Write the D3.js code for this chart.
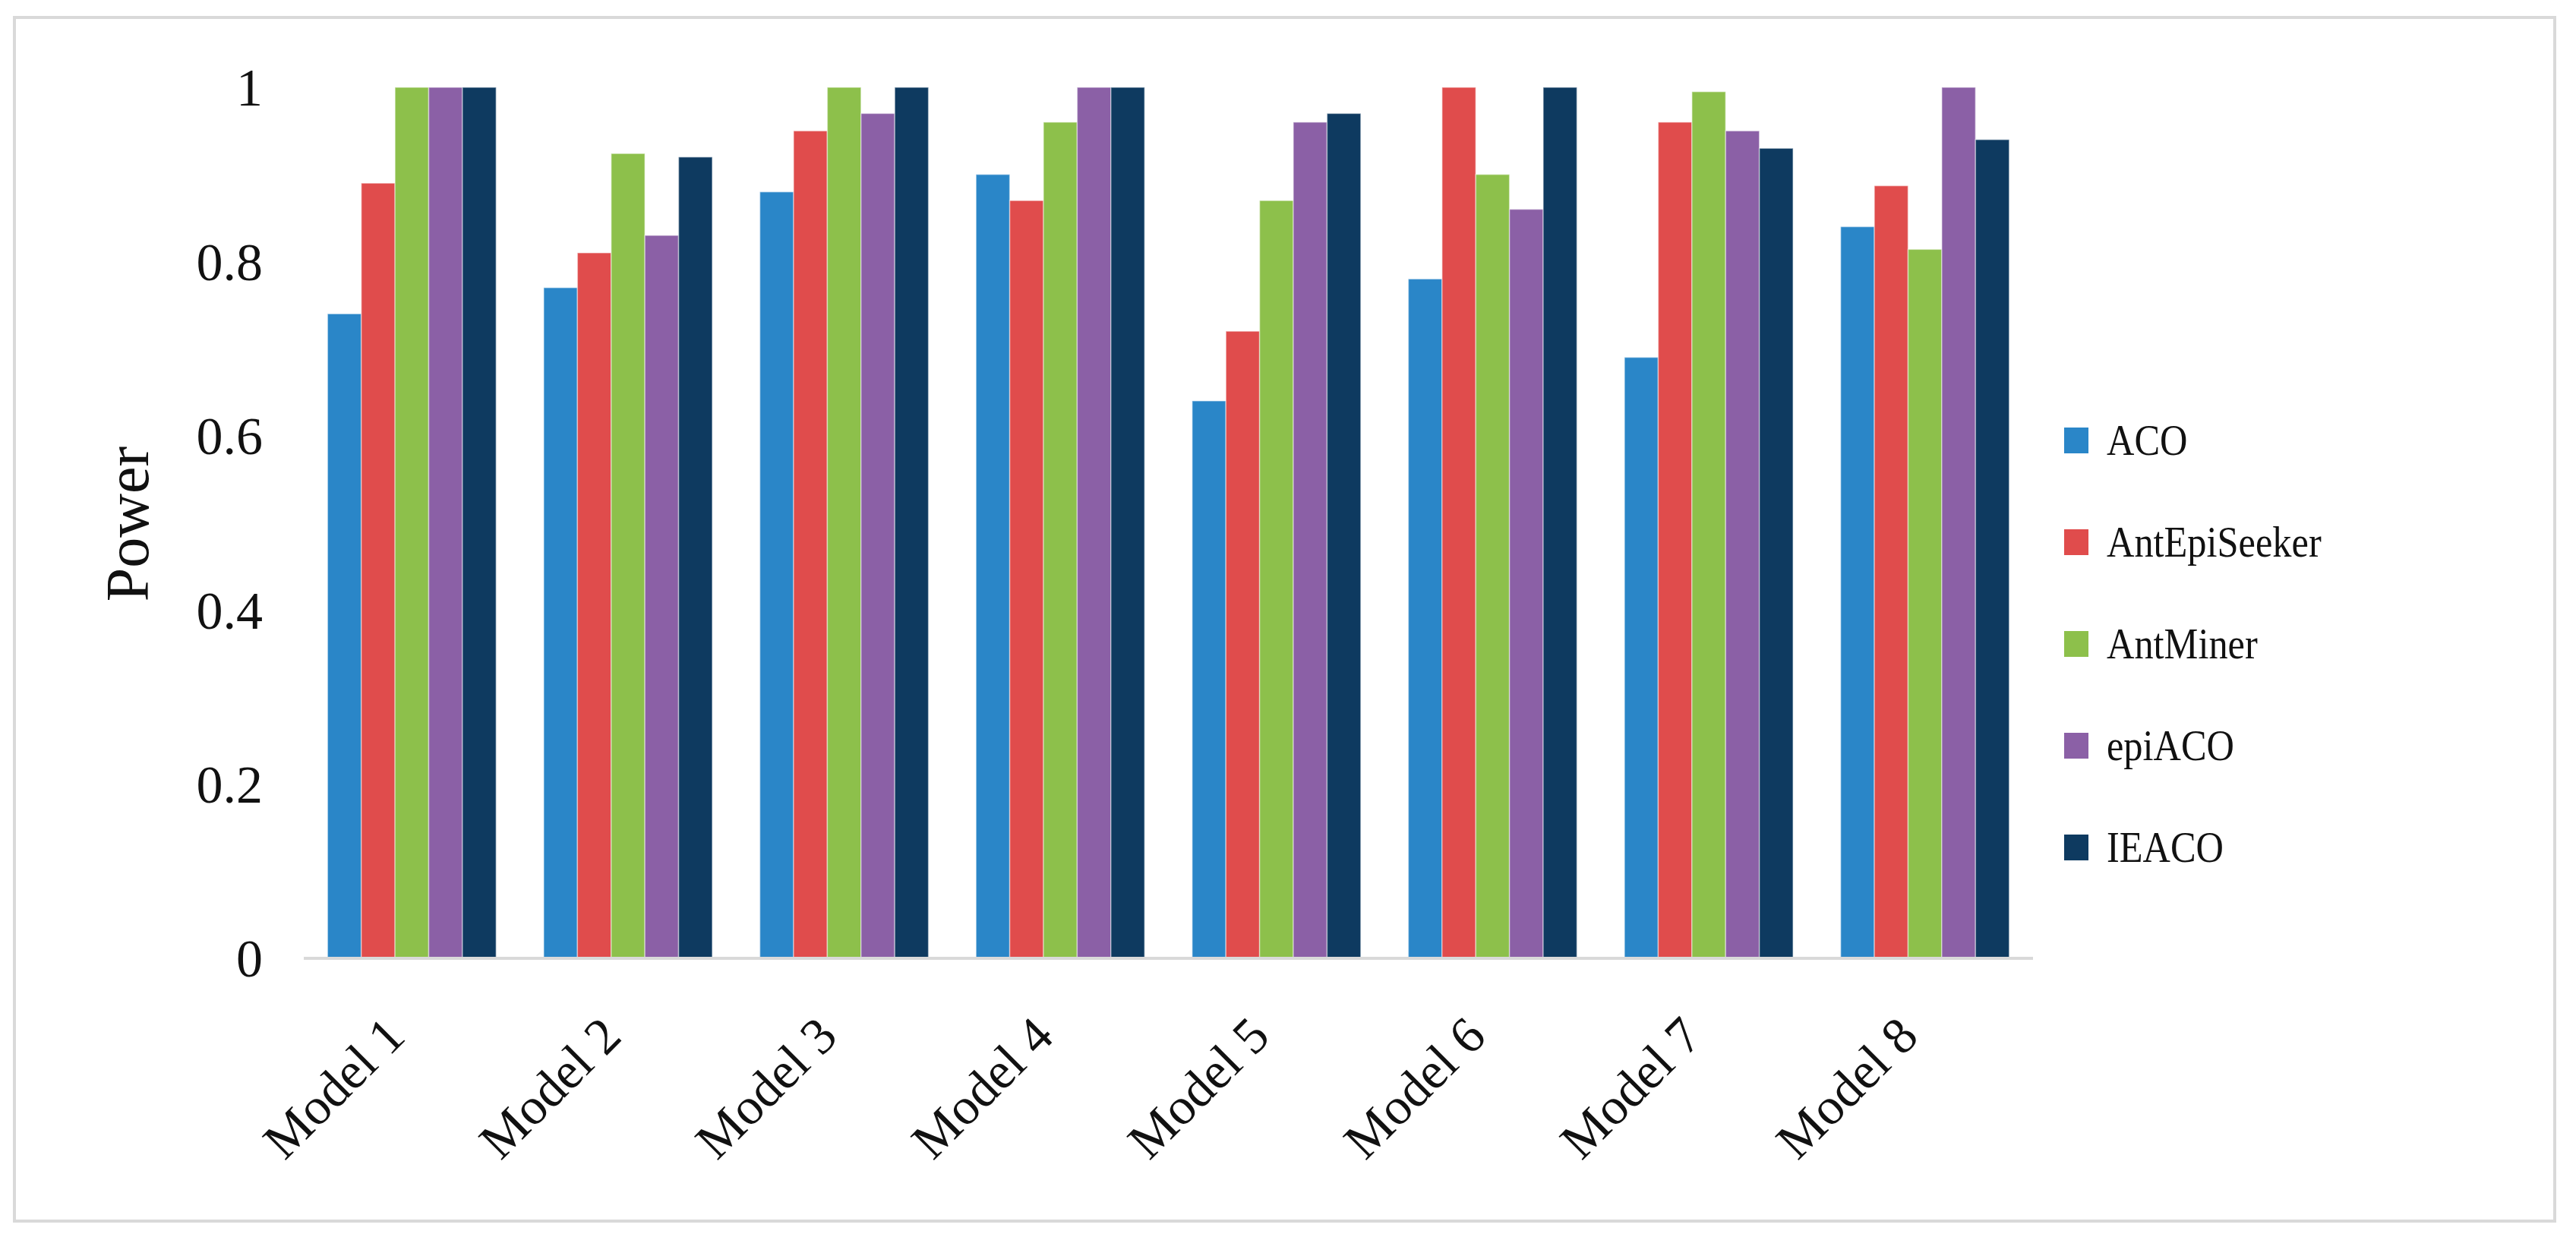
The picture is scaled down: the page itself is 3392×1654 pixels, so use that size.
<!DOCTYPE html>
<html>
<head>
<meta charset="utf-8">
<script src="https://cdn.jsdelivr.net/npm/d3@7/dist/d3.min.js"></script>
<style>
  html, body { margin: 0; padding: 0; background: #ffffff; }
  svg { display: block; }
</style>
</head>
<body>
<svg id="chart" width="3392" height="1654"></svg>
<script>
const categories = ["Model 1", "Model 2", "Model 3", "Model 4", "Model 5", "Model 6", "Model 7", "Model 8"];
const seriesNames = ["ACO", "AntEpiSeeker", "AntMiner", "epiACO", "IEACO"];
const seriesColors = ["#2a86c8", "#e04c4c", "#8dc04b", "#8b60a6", "#0e3a60"];
const aco          = [0.74, 0.77, 0.88, 0.90, 0.64, 0.78, 0.69, 0.84];
const antEpiSeeker = [0.89, 0.81, 0.95, 0.87, 0.72, 1.00, 0.96, 0.887];
const antMiner     = [1.00, 0.924, 1.00, 0.96, 0.87, 0.90, 0.995, 0.814];
const epiACO       = [1.00, 0.83, 0.97, 1.00, 0.96, 0.86, 0.95, 1.00];
const ieaco        = [1.00, 0.92, 1.00, 1.00, 0.97, 1.00, 0.93, 0.94];
const yTicks = [0, 0.2, 0.4, 0.6, 0.8, 1];
const yTickLabels = ["0", "0.2", "0.4", "0.6", "0.8", "1"];
const yTitle = "Power";

const seriesValues = [aco, antEpiSeeker, antMiner, epiACO, ieaco];
const rows = categories.map((c, i) => ({ cat: c, vals: seriesValues.map((s, j) => ({ key: seriesNames[j], v: s[i], j })) }));

const svg = d3.select("#chart");
const font = "'Liberation Serif', 'Times New Roman', serif";

// outer frame
svg.append("rect").attr("x", 19).attr("y", 23).attr("width", 3345).attr("height", 1585)
  .attr("fill", "#ffffff").attr("stroke", "#d9d9d9").attr("stroke-width", 4);

const x0 = d3.scaleBand().domain(categories).range([400, 2677]).paddingInner(0.22).paddingOuter(0.11);
const x1 = d3.scaleBand().domain(seriesNames).range([0, x0.bandwidth()]).padding(0);
const y = d3.scaleLinear().domain([0, 1]).range([1262, 115]);

// bars
const g = svg.append("g");
g.selectAll("g.grp").data(rows).join("g").attr("class", "grp")
  .attr("transform", d => `translate(${x0(d.cat)},0)`)
  .selectAll("rect").data(d => d.vals).join("rect")
  .attr("x", d => x1(d.key))
  .attr("width", x1.bandwidth())
  .attr("y", d => y(d.v))
  .attr("height", d => y(0) - y(d.v))
  .attr("fill", d => seriesColors[d.j])
  .attr("stroke", "rgba(255,255,255,0.45)")
  .attr("stroke-width", 1.5);

// x axis line
svg.append("line").attr("x1", 400).attr("x2", 2677).attr("y1", y(0)).attr("y2", y(0))
  .attr("stroke", "#d9d9d9").attr("stroke-width", 4);

// y axis labels
const yAxis = d3.axisLeft(y).tickValues(yTicks).tickFormat((d, i) => yTickLabels[i]).tickSize(0).tickPadding(0);
const ya = svg.append("g").attr("transform", "translate(346,0)").call(yAxis);
ya.select(".domain").remove();
ya.selectAll("text").attr("font-family", font).attr("font-size", 70).attr("fill", "#111").attr("dy", "0.34em");

// x labels
const xAxis = d3.axisBottom(x0).tickSize(0).tickPadding(0);
const xa = svg.append("g").attr("transform", `translate(0,${y(0)})`).call(xAxis);
xa.select(".domain").remove();
xa.selectAll("text")
  .attr("font-family", font).attr("font-size", 68).attr("fill", "#111")
  .attr("text-anchor", "end").attr("dy", 0).attr("y", 0)
  .attr("transform", "translate(-6,106) rotate(-45)");

// y title
svg.append("text").attr("transform", "translate(195,690) rotate(-90)")
  .attr("text-anchor", "middle").attr("font-family", font).attr("font-size", 80).attr("fill", "#111")
  .text(yTitle);

// legend
const lg = svg.append("g").attr("transform", "translate(2718,580)");
const items = lg.selectAll("g").data(seriesNames).join("g").attr("transform", (d, i) => `translate(0,${i * 134})`);
items.append("rect").attr("x", 0).attr("y", -17).attr("width", 32).attr("height", 34).attr("fill", (d, i) => seriesColors[i]);
items.append("text").attr("transform", "translate(56,0) scale(0.9,1)").attr("dy", "0.34em")
  .attr("font-family", font).attr("font-size", 56).attr("fill", "#111").text(d => d);
</script>
</body>
</html>
